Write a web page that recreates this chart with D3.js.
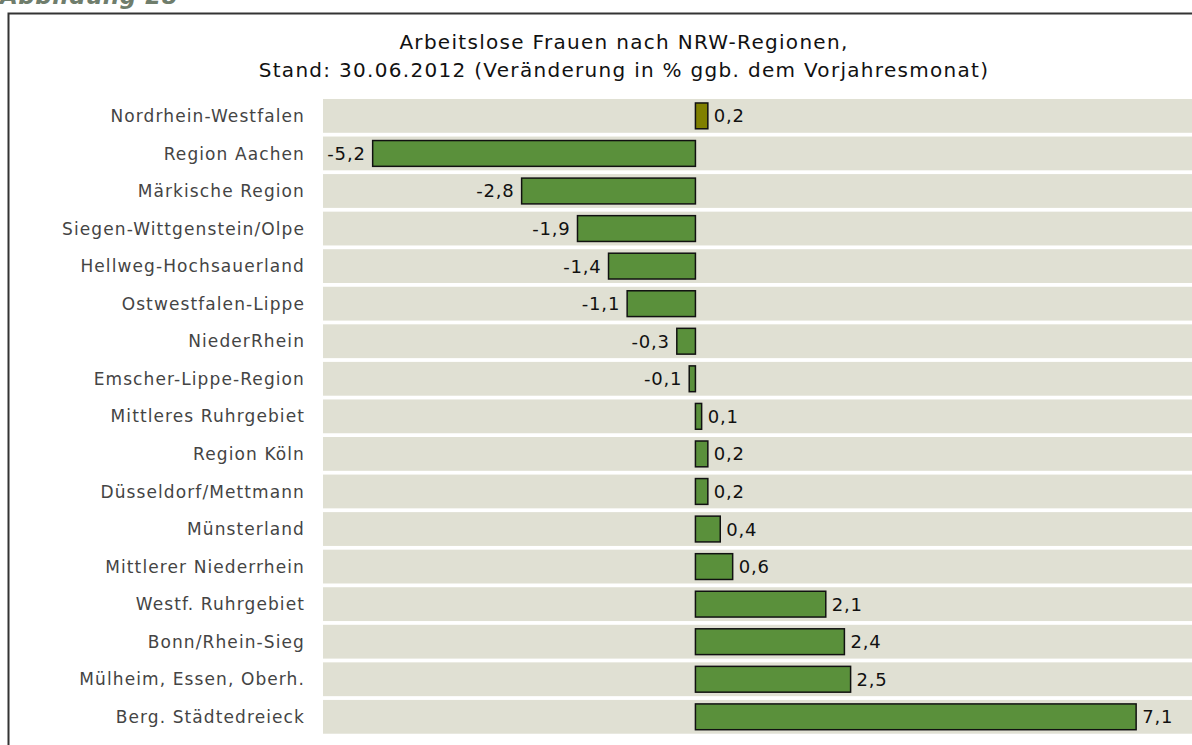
<!DOCTYPE html>
<html>
<head>
<meta charset="utf-8">
<title>Arbeitslose Frauen nach NRW-Regionen</title>
<script src="https://d3js.org/d3.v7.min.js"></script>
<style>
  body { margin: 0; background: #fff; }
  svg { display: block; font-family: "DejaVu Sans", sans-serif; }
</style>
</head>
<body>
<div id="chart"></div>
<script>
// data
var regions = ["Nordrhein-Westfalen", "Region Aachen", "Märkische Region", "Siegen-Wittgenstein/Olpe",
  "Hellweg-Hochsauerland", "Ostwestfalen-Lippe", "NiederRhein", "Emscher-Lippe-Region",
  "Mittleres Ruhrgebiet", "Region Köln", "Düsseldorf/Mettmann", "Münsterland",
  "Mittlerer Niederrhein", "Westf. Ruhrgebiet", "Bonn/Rhein-Sieg", "Mülheim, Essen, Oberh.",
  "Berg. Städtedreieck"];
var changes = [0.2, -5.2, -2.8, -1.9, -1.4, -1.1, -0.3, -0.1, 0.1, 0.2, 0.2, 0.4, 0.6, 2.1, 2.4, 2.5, 7.1];
var titleLines = ["Arbeitslose Frauen nach NRW-Regionen,",
  "Stand: 30.06.2012 (Veränderung in % ggb. dem Vorjahresmonat)"];
var figureLabel = "Abbildung 28";

var width = 1192, height = 745;

var svg = d3.select("#chart").append("svg")
  .attr("width", width)
  .attr("height", height);

// figure caption, cut off at the top like in the original
svg.append("text")
  .attr("x", 0)
  .attr("y", 4)
  .attr("fill", "#6f7d6c")
  .attr("font-size", 23)
  .attr("font-weight", "bold")
  .attr("font-style", "italic")
  .attr("letter-spacing", 0.5)
  .text(figureLabel);

// frame
svg.append("rect")
  .attr("x", 8.5)
  .attr("y", 13.5)
  .attr("width", width + 10)
  .attr("height", height + 10)
  .attr("fill", "none")
  .attr("stroke", "#333")
  .attr("stroke-width", 2);

// title
svg.selectAll("text.title")
  .data(titleLines)
  .enter().append("text")
  .attr("class", "title")
  .attr("x", 624)
  .attr("y", function(d, i) { return 49 + i * 28; })
  .attr("text-anchor", "middle")
  .attr("font-size", 20)
  .attr("letter-spacing", 1.3)
  .attr("fill", "#111")
  .text(function(d) { return d; });

var x = d3.scaleLinear().domain([-6, 8]).range([323, 1192]);
var y = d3.scaleBand().domain(regions)
  .range([97.1, 735.6])
  .paddingInner(0.1)
  .paddingOuter(0.05);

var fmt = function(v) { return d3.format(".1f")(v).replace(".", ",").replace("−", "-"); };

// background bands
svg.selectAll("rect.band")
  .data(regions)
  .enter().append("rect")
  .attr("class", "band")
  .attr("x", x(-6))
  .attr("y", function(d) { return y(d); })
  .attr("width", x(8) - x(-6))
  .attr("height", y.bandwidth())
  .attr("fill", "#e0e0d3");

// category labels
svg.selectAll("text.cat")
  .data(regions)
  .enter().append("text")
  .attr("class", "cat")
  .attr("x", 305)
  .attr("y", function(d) { return y(d) + y.bandwidth() / 2; })
  .attr("dy", "0.36em")
  .attr("text-anchor", "end")
  .attr("font-size", 17)
  .attr("letter-spacing", 1.1)
  .attr("fill", "#444")
  .text(function(d) { return d; });

var inset = 4;

// bars
svg.selectAll("rect.bar")
  .data(changes)
  .enter().append("rect")
  .attr("class", "bar")
  .attr("x", function(d) { return x(Math.min(0, d)); })
  .attr("y", function(d, i) { return y(regions[i]) + inset; })
  .attr("width", function(d) { return Math.abs(x(d) - x(0)); })
  .attr("height", y.bandwidth() - 2 * inset)
  .attr("fill", function(d, i) { return i === 0 ? "#808000" : "#5a903b"; })
  .attr("stroke", "#111")
  .attr("stroke-width", 1.5);

// value labels
svg.selectAll("text.val")
  .data(changes)
  .enter().append("text")
  .attr("class", "val")
  .attr("x", function(d) { return d < 0 ? x(d) - 7 : x(d) + 6; })
  .attr("y", function(d, i) { return y(regions[i]) + y.bandwidth() / 2; })
  .attr("dy", "0.36em")
  .attr("text-anchor", function(d) { return d < 0 ? "end" : "start"; })
  .attr("font-size", 18)
  .attr("letter-spacing", 0.8)
  .attr("fill", "#111")
  .text(function(d) { return fmt(d); });
</script>
</body>
</html>
